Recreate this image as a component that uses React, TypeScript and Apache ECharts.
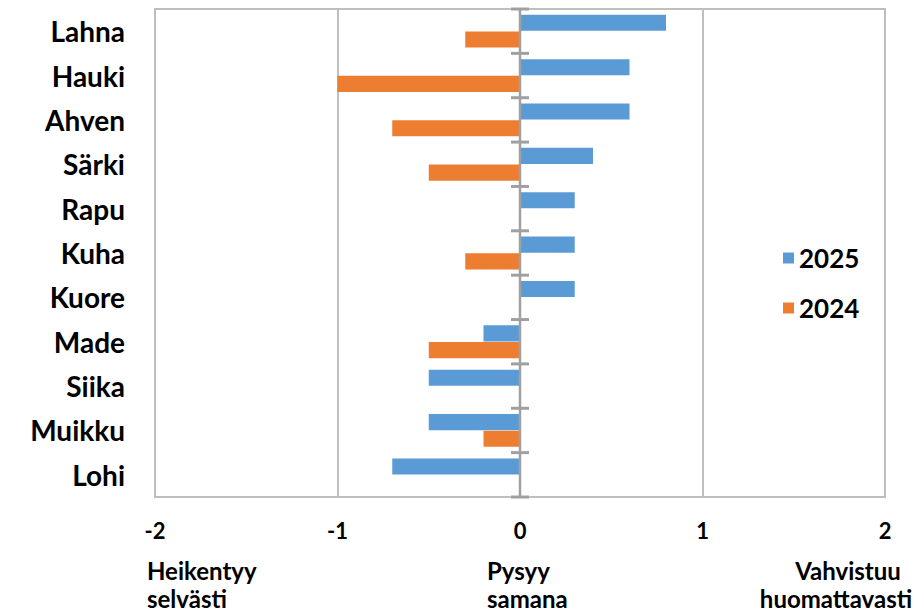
import React, { useEffect, useRef } from "react";
import * as echarts from "echarts";

const categories = ["Lahna", "Hauki", "Ahven", "Särki", "Rapu", "Kuha", "Kuore", "Made", "Siika", "Muikku", "Lohi"];
const values2025 = [0.8, 0.6, 0.6, 0.4, 0.3, 0.3, 0.3, -0.2, -0.5, -0.5, -0.7];
const values2024 = [-0.3, -1.0, -0.7, -0.5, 0, -0.3, 0, -0.5, 0, -0.2, 0];
const seriesNames = ["2025", "2024"];
const xTickMin = -2;
const xTickMax = 2;
const bottomLabelLines = [
  { text: "Heikentyy", x: 147, y: 558, align: "left" },
  { text: "selvästi", x: 147, y: 586, align: "left" },
  { text: "Pysyy", x: 487, y: 558, align: "left" },
  { text: "samana", x: 487, y: 586, align: "left" },
  { text: "Vahvistuu", x: 848, y: 558, align: "center" },
  { text: "huomattavasti", x: 836, y: 586, align: "center" },
];

const FONT = "Lato, 'Liberation Sans', sans-serif";
const AXIS_GREY = "#A0A0A0";

export default function App() {
  const ref = useRef<HTMLDivElement>(null);
  useEffect(() => {
    if (!ref.current) return;
    const chart = echarts.init(ref.current, undefined, { renderer: "svg" });
    const n = categories.length;
    chart.setOption({
      animation: false,
      backgroundColor: "#ffffff",
      grid: {
        left: 155,
        right: 34,
        top: 9,
        bottom: 117,
        show: true,
        borderColor: "#BFBFBF",
        borderWidth: 2,
        containLabel: false,
      },
      legend: {
        orient: "vertical",
        left: 778,
        top: 240,
        itemWidth: 11,
        itemHeight: 11,
        itemGap: 24,
        icon: "rect",
        data: seriesNames,
        textStyle: { fontFamily: FONT, fontWeight: "bold", fontSize: 26, color: "#000" },
      },
      xAxis: {
        type: "value",
        min: xTickMin,
        max: xTickMax,
        interval: 1,
        axisLine: { show: false },
        axisTick: { show: false },
        splitLine: { show: true, lineStyle: { color: "#BFBFBF", width: 2 } },
        axisLabel: {
          margin: 22,
          fontFamily: FONT,
          fontWeight: "bold",
          fontSize: 22,
          color: "#000",
        },
      },
      yAxis: {
        type: "category",
        data: categories,
        inverse: true,
        axisLine: { show: false, onZero: false },
        axisTick: { show: false },
        axisLabel: {
          margin: 30,
          fontFamily: FONT,
          fontWeight: "bold",
          fontSize: 28,
          color: "#000",
        },
      },
      series: [
        {
          name: seriesNames[0],
          type: "bar",
          data: values2025,
          barCategoryGap: "26%",
          barGap: "4%",
          itemStyle: { color: "#5B9BD5" },
          z: 1,
        },
        {
          name: seriesNames[1],
          type: "bar",
          data: values2024,
          barCategoryGap: "26%",
          barGap: "4%",
          itemStyle: { color: "#ED7D31" },
          z: 1,
        },
        {
          name: "zeroAxis",
          type: "custom",
          z: 5,
          silent: true,
          data: categories.map((c, i) => [0, i]),
          encode: { x: 0, y: 1 },
          renderItem: (params: any, api: any) => {
            const idx = api.value(1);
            const p = api.coord([0, idx]);
            const h = api.size([0, 1])[1];
            const style = { stroke: AXIS_GREY, lineWidth: 2.5 };
            const tickStyle = { stroke: AXIS_GREY, lineWidth: 3 };
            const children: any[] = [
              { type: "line", shape: { x1: p[0], y1: p[1] - h / 2, x2: p[0], y2: p[1] + h / 2 }, style },
              { type: "line", shape: { x1: p[0] - 9, y1: p[1] - h / 2, x2: p[0] + 9, y2: p[1] - h / 2 }, style: tickStyle },
            ];
            if (params.dataIndex === n - 1) {
              children.push({ type: "line", shape: { x1: p[0] - 9, y1: p[1] + h / 2, x2: p[0] + 9, y2: p[1] + h / 2 }, style: tickStyle });
            }
            return { type: "group", children };
          },
        },
      ],
      graphic: bottomLabelLines.map((b) => ({
        type: "text",
        x: b.x,
        y: b.y,
        style: {
          text: b.text,
          textAlign: b.align,
          textVerticalAlign: "top",
          fontFamily: FONT,
          fontWeight: "bold",
          fontSize: 24,
          fill: "#000",
        },
      })),
    });
    return () => chart.dispose();
  }, []);
  return <div ref={ref} style={{ width: 919, height: 614, position: "absolute", left: 0, top: 0 }} />;
}
